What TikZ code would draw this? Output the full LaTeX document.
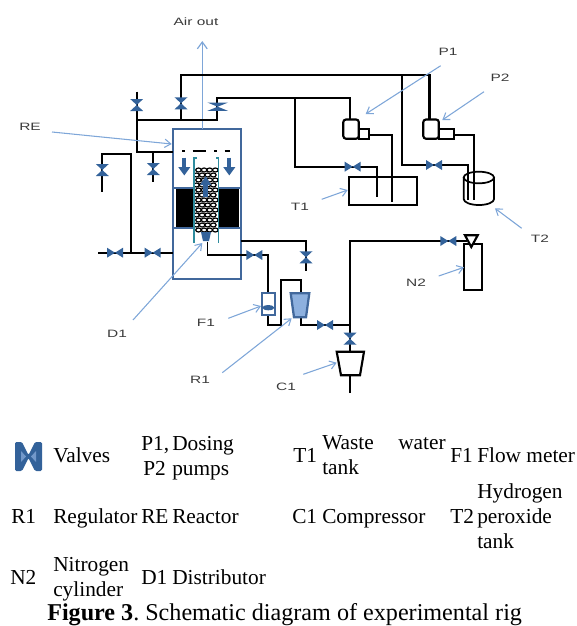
\documentclass[tikz,border=0pt]{standalone}
\usepackage{fontspec}
\setmainfont{Liberation Serif}
\newfontfamily\tagfont{Liberation Sans}
\usetikzlibrary{arrows.meta}
\definecolor{vblue}{HTML}{33629A}
\definecolor{rblue}{HTML}{41689C}
\definecolor{nblue}{HTML}{7EA6D8}
\definecolor{lblue}{HTML}{8DB0DE}
\definecolor{teal2}{HTML}{2F8C9E}
\definecolor{tagcol}{HTML}{3A3A3A}
\newcommand{\wide}[1]{\scalebox{1.45}[1]{#1}}
\frenchspacing
\tikzset{
  pipe/.style={black,line width=1.6pt},
  tankline/.style={black,line width=1.3pt},
  vessel/.style={rblue,line width=1.7pt},
  note/.style={nblue,line width=.8pt,-{Straight Barb[length=1.6mm,width=2.2mm]}},
  tag/.style={font=\tagfont\fontsize{8}{9}\selectfont,text=tagcol,inner sep=0pt},
  leg/.style={font=\fontsize{16}{18}\selectfont,anchor=base west,inner sep=0pt},
  hvalve/.pic={\fill[vblue] (-8,-5)--(8,5)--(8,-5)--(-8,5)--cycle;},
  vvalve/.pic={\fill[vblue] (-6.5,-6)--(6.5,6)--(-6.5,6)--(6.5,-6)--cycle;}
}
\begin{document}
\begin{tikzpicture}[x=.75pt,y=-.75pt]
\useasboundingbox (0,0) rectangle (576,626);
% reactor
\fill[black] (176,188) rectangle (239,228);
\fill[white] (195,168) rectangle (218,231);
\foreach \i in {0,...,3}{\foreach \j in {0,...,12}{
  \pgfmathsetmacro{\px}{198.5+5.6*\i-2*mod(\j,2)}
  \draw[black,line width=.9pt] (\px,170+5*\j) ellipse (2.8 and 2);}}
\draw[vessel] (172.7,129) rectangle (240.7,279);
\draw[vessel] (172.7,188) -- (195,188) (218,188) -- (240.7,188) (172.7,228) -- (195,228) (218,228) -- (240.7,228);
\draw[teal2,line width=1pt] (197,158)--(194,158)--(194,243) (216,158)--(218.5,158)--(218.5,243);
\draw[black,line width=1pt,dash pattern=on 2pt off 6pt on 10pt off 6pt] (182,151) -- (230,151);
\foreach \x in {184.3,229.3}{
  \draw[vblue,line width=3pt,-{Triangle[length=2.2mm,width=3mm]}] (\x,157.5) -- (\x,175.5);}
\draw[vblue,line width=3.4pt,-{Triangle[length=2.4mm,width=2.8mm]}] (205.7,197) -- (205.7,176);
\fill[vblue] (201,232)--(211,232)--(209,241)--(203,241)--cycle;
% air out
\draw[nblue,line width=.9pt,-{Straight Barb[length=1.8mm,width=2.6mm]}] (202.3,129) -- (202.3,41);
% left pipework
\draw[pipe] (136.7,91.7) -- (136.7,151.7) -- (172.7,151.7);
\draw[pipe] (136.7,120) -- (216.7,120) -- (216.7,97.7) -- (350.3,97.7) -- (350.3,120);
\draw[pipe] (181,120) -- (181,75.2) -- (429.5,75.2) -- (429.5,120);
\draw[pipe] (153.3,151.7) -- (153.3,181.7);
\draw[pipe] (102.3,191.7) -- (102.3,154.3) -- (131,154.3) -- (131,252.7);
\draw[pipe] (98.3,252.7) -- (172.7,252.7);
% outlet and flow meter
\draw[pipe] (240.7,241) -- (306,241) -- (306,270.7);
\draw[black,line width=1pt] (207.3,241.7) -- (207.3,255);
\draw[pipe] (207.3,255) -- (268.3,255) -- (268.3,293);
\draw[pipe] (268.3,315) -- (268.3,325) -- (280.7,325) -- (280.7,280) -- (301,280) -- (301,293);
\draw[pipe] (301,317) -- (301,325) -- (350,325);
\draw[vessel,fill=white] (261.7,293.3) rectangle (275,315);
\fill[vblue] (268.3,307.7) ellipse (6 and 2.6);
\draw[vessel,fill=lblue] (290.7,293.3) -- (309.3,293.3) -- (306,317.3) -- (294,317.3) -- cycle;
% compressor and nitrogen
\draw[pipe] (350,393) -- (350,241) -- (467,241);
\draw[pipe,fill=white] (336.7,351.7) -- (364,351.7) -- (360,375.3) -- (341,375.3) -- cycle;
\draw[pipe,fill=white] (463.7,244.3) rectangle (481.7,290);
\draw[pipe,fill=white] (465,235.3) -- (477.7,235.3) -- (471.3,247) -- cycle;
% dosing side
\draw[pipe] (295,97.7) -- (295,166.7) -- (376.7,166.7) -- (376.7,196.7);
\draw[pipe] (402.3,75.2) -- (402.3,165) -- (468,165) -- (468,200);
\draw[pipe] (369.3,135) -- (391.7,135) -- (391.7,201.7);
\draw[pipe] (453.7,135) -- (473.7,135) -- (473.7,200);
\foreach \x in {343.3,423.3}{
  \draw[pipe,fill=white,rounded corners=2pt] (\x,138.7) -- (\x,119.5) -- (\x+15.5,119.5) -- (\x+15.5,138.7) -- cycle;}
\draw[tankline] (359,128.7) rectangle (369.3,138.7);
\draw[tankline] (438.7,128.7) rectangle (453.7,138.7);
\draw[tankline] (349.3,176.7) rectangle (417.3,204.7);
\draw[tankline] (463.7,177.5) -- (463.7,199) arc[start angle=180,end angle=0,x radius=15.2,y radius=6] -- (494,177.5);
\draw[tankline] (478.85,177.5) ellipse (15.2 and 5.8);
% valves
\foreach \x/\y in {115/252.7,152.7/252.7,254.3/255,325/325,352.7/166.7,434/165,448.3/241}{
  \pic at (\x,\y) {hvalve};}
\foreach \x/\y in {136.7/105,181/103.3,153.3/169,102.3/170,306/257.3,350/338.7}{
  \pic at (\x,\y) {vvalve};}
\pic[xscale=1.6,yscale=.7] at (217.7,106.7) {vvalve};
% labels and their arrows
\node[tag] (airtag) at (196,22) {\wide{Air out}};
\foreach \name/\lx/\ly/\sx/\sy/\ex/\ey in {
  RE/30/127/52/132/171.7/144,
  D1/117/334/133/320/202.3/243,
  P1/448/52/440.7/65.7/365.7/114,
  P2/500/78/484/91.7/442.3/120,
  T1/300/207/321.7/199.3/347.7/190,
  T2/540/239/521.7/228.3/495/208.3,
  F1/206/323/228.3/318.3/261/306,
  R1/200/380/222.3/372.7/291.7/318.3,
  C1/286/387/303.3/374.3/336.7/362.7,
  N2/416/283/438.7/276/464/267.3}{
  \node[tag] (tag\name) at (\lx,\ly) {\wide{\name}};
  \coordinate (from\name) at (\sx,\sy);
  \coordinate (to\name) at (\ex,\ey);
  \draw[note] (from\name) -- (to\name);}
% legend
\fill[vblue,rounded corners=1pt] (15,442) -- (22,442) -- (28.5,455) -- (35,442) -- (42,442) -- (42,471) -- (35,471) -- (28.5,458) -- (22,471) -- (15,471) -- cycle;
\fill[lblue!70!vblue] (21,451) -- (26,456.5) -- (21,462) -- cycle (36,451) -- (31,456.5) -- (36,462) -- cycle;
\foreach \x/\y/\txt in {
  53/462/Valves,141/450/{P1,},143/475/P2,172/450/Dosing,172/475/pumps,
  293/462/T1,322/449/Waste,398/449/water,322/474/tank,450/462/F1,477/462/Flow meter,
  11/523/R1,53/523/Regulator,141/523/RE,172/523/Reactor,292/523/C1,322/523/Compressor,
  450/523/T2,477/498/Hydrogen,477/523/peroxide,477/548/tank,
  10/584/N2,53/571/Nitrogen,53/596/cylinder,141/584/D1,172/584/Distributor}{
  \node[leg] (leg\x-\y) at (\x,\y) {\txt};}
\node[leg,font=\fontsize{18.1}{20}\selectfont] (caption) at (47,620.5) {\textbf{Figure 3}. Schematic diagram of experimental rig};
\end{tikzpicture}
\end{document}
